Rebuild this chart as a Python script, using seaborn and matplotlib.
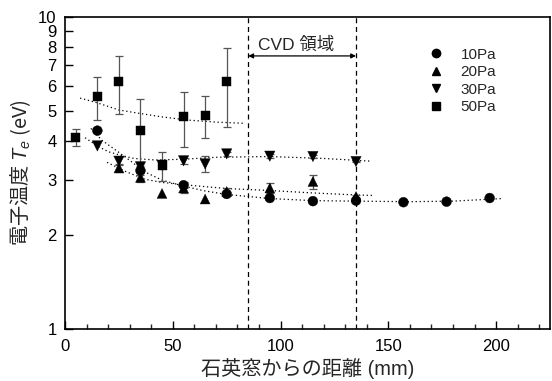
import numpy as np
import pandas as pd
import matplotlib
matplotlib.use("Agg")
import matplotlib.pyplot as plt
import seaborn as sns

# Electron temperature vs. distance from the quartz window
x_10 = [15, 35, 55, 75, 95, 115, 135, 157, 177, 197]
te_10 = [4.32, 3.22, 2.89, 2.71, 2.63, 2.57, 2.58, 2.55, 2.56, 2.63]
err_10 = [0, 0.1, 0.06, 0, 0, 0, 0, 0, 0, 0]

x_20 = [25, 35, 45, 55, 65, 75, 95, 115, 135]
te_20 = [3.28, 3.06, 2.72, 2.83, 2.61, 2.76, 2.83, 2.97, 2.66]
err_20 = [0.1, 0.1, 0, 0.1, 0, 0.07, 0.1, 0.15, 0.03]

x_30 = [15, 25, 35, 45, 55, 65, 75, 95, 115, 135]
te_30 = [3.86, 3.45, 3.31, 3.35, 3.46, 3.38, 3.64, 3.58, 3.57, 3.44]
err_30 = [0, 0.1, 0.12, 0, 0.08, 0.2, 0.05, 0.06, 0.05, 0.02]

x_50 = [5, 15, 25, 35, 45, 55, 65, 75]
te_50 = [4.12, 5.55, 6.2, 4.34, 3.34, 4.78, 4.84, 6.2]
err_50 = [0.26, 0.87, 1.3, 1.1, 0.35, 0.96, 0.75, 1.75]

# Dotted trend curves
trend_x_10 = [12, 17, 25, 30, 37, 45, 55, 65, 75, 95, 115, 135, 160, 180, 203]
trend_y_10 = [4.39, 4.03, 3.68, 3.47, 3.19, 3.0, 2.87, 2.77, 2.7, 2.62, 2.58, 2.57, 2.56, 2.57, 2.62]
trend_x_20 = [19.5, 28, 37, 45, 55, 65, 75, 95, 115, 135, 143]
trend_y_20 = [3.42, 3.2, 3.02, 2.95, 2.9, 2.86, 2.82, 2.78, 2.73, 2.69, 2.68]
trend_x_30 = [9.3, 15, 20, 26, 32, 42, 55, 70, 95, 120, 142]
trend_y_30 = [4.1, 3.86, 3.7, 3.6, 3.52, 3.48, 3.5, 3.55, 3.57, 3.52, 3.45]
trend_x_50 = [7, 15, 25, 35, 45, 57, 70, 83]
trend_y_50 = [5.49, 5.3, 5.03, 4.9, 4.78, 4.67, 4.6, 4.56]

labels = ["10Pa", "20Pa", "30Pa", "50Pa"]
markers = {"10Pa": "o", "20Pa": "^", "30Pa": "v", "50Pa": "s"}
sizes = {"10Pa": 50, "20Pa": 50, "30Pa": 55, "50Pa": 42}

cvd_region = [85, 135]
y_ticks = [1, 2, 3, 4, 5, 6, 7, 8, 9, 10]
x_ticks = [0, 50, 100, 150, 200]

series = {
    "10Pa": (x_10, te_10, err_10, trend_x_10, trend_y_10),
    "20Pa": (x_20, te_20, err_20, trend_x_20, trend_y_20),
    "30Pa": (x_30, te_30, err_30, trend_x_30, trend_y_30),
    "50Pa": (x_50, te_50, err_50, trend_x_50, trend_y_50),
}

df = pd.concat(
    [pd.DataFrame({"x": s[0], "te": s[1], "err": s[2], "p": k}) for k, s in series.items()],
    ignore_index=True,
)

sns.set_theme(style="ticks")
plt.rcParams["font.family"] = ["Liberation Sans", "Noto Sans CJK JP"]
plt.rcParams["mathtext.fontset"] = "custom"
plt.rcParams["mathtext.rm"] = "Liberation Sans"
plt.rcParams["mathtext.it"] = "Liberation Sans:italic"

fig = plt.figure(figsize=(5.52, 3.81), dpi=100)
ax = fig.add_axes([0.1178, 0.1357, 0.8786, 0.8205])

# trend curves
for k in labels:
    tx, ty = series[k][3], series[k][4]
    ax.plot(tx, ty, linestyle=(0, (1, 2.2)), color="black", linewidth=0.9, zorder=1)

# error bars
for k in labels:
    sub = df[(df.p == k) & (df.err > 0)]
    ax.errorbar(sub.x, sub.te, yerr=sub.err, fmt="none", ecolor="#555555",
                elinewidth=0.9, capsize=3, capthick=0.9, zorder=2)

sns.scatterplot(data=df, x="x", y="te", style="p", markers=markers,
                hue="p", palette={k: "black" for k in labels},
                size="p", sizes=sizes, edgecolor="black", linewidth=0.3,
                ax=ax, zorder=3, legend=False)

# CVD region
for xv in cvd_region:
    ax.axvline(xv, color="black", linestyle=(0, (4, 3)), linewidth=0.9, zorder=0)
ax.annotate("", xy=(cvd_region[0], 7.49), xytext=(cvd_region[1], 7.49),
            arrowprops=dict(arrowstyle="<|-|>", color="black", lw=0.9,
                            mutation_scale=7, shrinkA=0, shrinkB=0))
ax.text(107.2, 8.15, "CVD 領域", ha="center", va="center", fontsize=12.5)

# legend
handles = [plt.Line2D([], [], linestyle="none", marker=markers[k], color="black",
                      markersize=6 if k != "50Pa" else 5.5) for k in labels]
ax.legend(handles, labels, loc="upper left", bbox_to_anchor=(0.737, 0.92),
          frameon=False, fontsize=11, handletextpad=1.1, labelspacing=0.22,
          handlelength=1.0, borderaxespad=0)

ax.set_yscale("log")
ax.set_ylim(1, 10)
ax.set_xlim(0, 225)
ax.set_yticks(y_ticks)
ax.set_yticklabels([str(v) for v in y_ticks])
ax.yaxis.set_minor_locator(matplotlib.ticker.NullLocator())
ax.set_xticks(x_ticks)
ax.set_xticklabels([str(v) for v in x_ticks])
ax.xaxis.set_minor_locator(matplotlib.ticker.MultipleLocator(10))

ax.tick_params(axis="both", which="major", direction="in", length=6, width=1,
               labelsize=12, colors="black")
ax.tick_params(axis="x", which="minor", direction="in", length=3.5, width=1)
ax.tick_params(axis="y", pad=6)
ax.tick_params(axis="x", pad=7)
for s in ax.spines.values():
    s.set_linewidth(1.2)
    s.set_color("black")
    s.set_visible(True)

ax.set_xlabel("石英窓からの距離 (mm)", fontsize=14.5, labelpad=3)
ax.set_ylabel("電子温度 $T_e$ (eV)", fontsize=14.5, labelpad=4,
              family=["Noto Sans CJK JP"])

fig.savefig("out.png", dpi=100)
